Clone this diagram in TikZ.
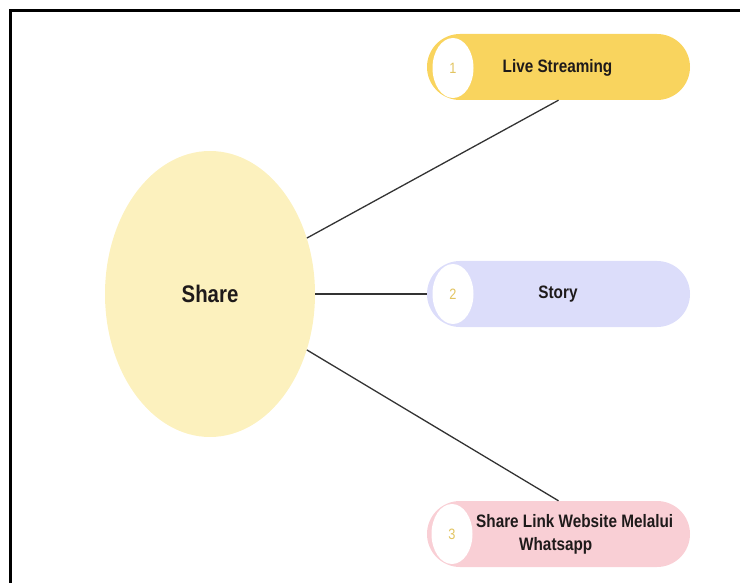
\documentclass[tikz,border=0pt]{standalone}
\usepackage{fontspec}
\usetikzlibrary{shapes.geometric}
\newfontfamily\cond[FakeStretch=0.85,BoldFeatures={FakeStretch=0.85}]{Liberation Sans}
\definecolor{hubfill}{HTML}{FCF1BE}
\definecolor{goldbox}{HTML}{F9D45E}
\definecolor{lilacbox}{HTML}{DCDDFA}
\definecolor{pinkbox}{HTML}{F9CFD5}
\definecolor{numgold}{HTML}{E2C460}
\definecolor{linkgray}{HTML}{333333}
\definecolor{txt}{HTML}{1E1A1A}
\tikzset{
  hub/.style={ellipse, fill=hubfill, draw=none, minimum width=210pt, minimum height=286pt,
    inner sep=0pt, font=\cond\bfseries\fontsize{24}{28}\selectfont, text=txt},
  pill/.style={rectangle, rounded corners=33pt, draw=none, minimum width=263pt,
    minimum height=66pt, inner sep=0pt},
  badge/.style={ellipse, fill=white, draw=none, minimum width=41pt, minimum height=60pt,
    inner sep=0pt, text=numgold, font=\cond\fontsize{15}{18}\selectfont},
  label/.style={text=txt, font=\cond\bfseries\fontsize{18}{24}\selectfont, inner sep=0pt},
  link/.style={draw=linkgray, line width=1.3pt},
  frame/.style={draw=black, line width=3pt}
}
\begin{document}
\begin{tikzpicture}[x=1pt,y=-1pt]
\useasboundingbox (0,0) rectangle (740,583);
% outer frame (open to the right and bottom)
\draw[frame] (10,590) -- (10,11) -- (750,11);

% central topic
\node[hub] (share) at (210,294) {Share};

% three branches
\node[pill, fill=goldbox]  (live)  at (558.5,67)  {};
\node[pill, fill=lilacbox] (story) at (558.5,294) {};
\node[pill, fill=pinkbox]  (link)  at (558.5,534) {};

\node[badge] (b1) at (453,68)  {1};
\node[badge] (b2) at (453,294) {2};
\node[badge] (b3) at (452,534) {3};

\node[label] (t1) at (557.5,68) {Live Streaming};
\node[label] (t2) at (558,294)  {Story};
\node[label, anchor=west] (t3a) at (476,521) {Share Link Website Melalui};
\node[label, anchor=west] (t3b) at (519,546) {Whatsapp};

% connectors
\draw[link] (share.30)  -- (live.south);
\draw[link] (share.east) -- (story.west);
\draw[link] (share.-30) -- (link.north);
\end{tikzpicture}
\end{document}
